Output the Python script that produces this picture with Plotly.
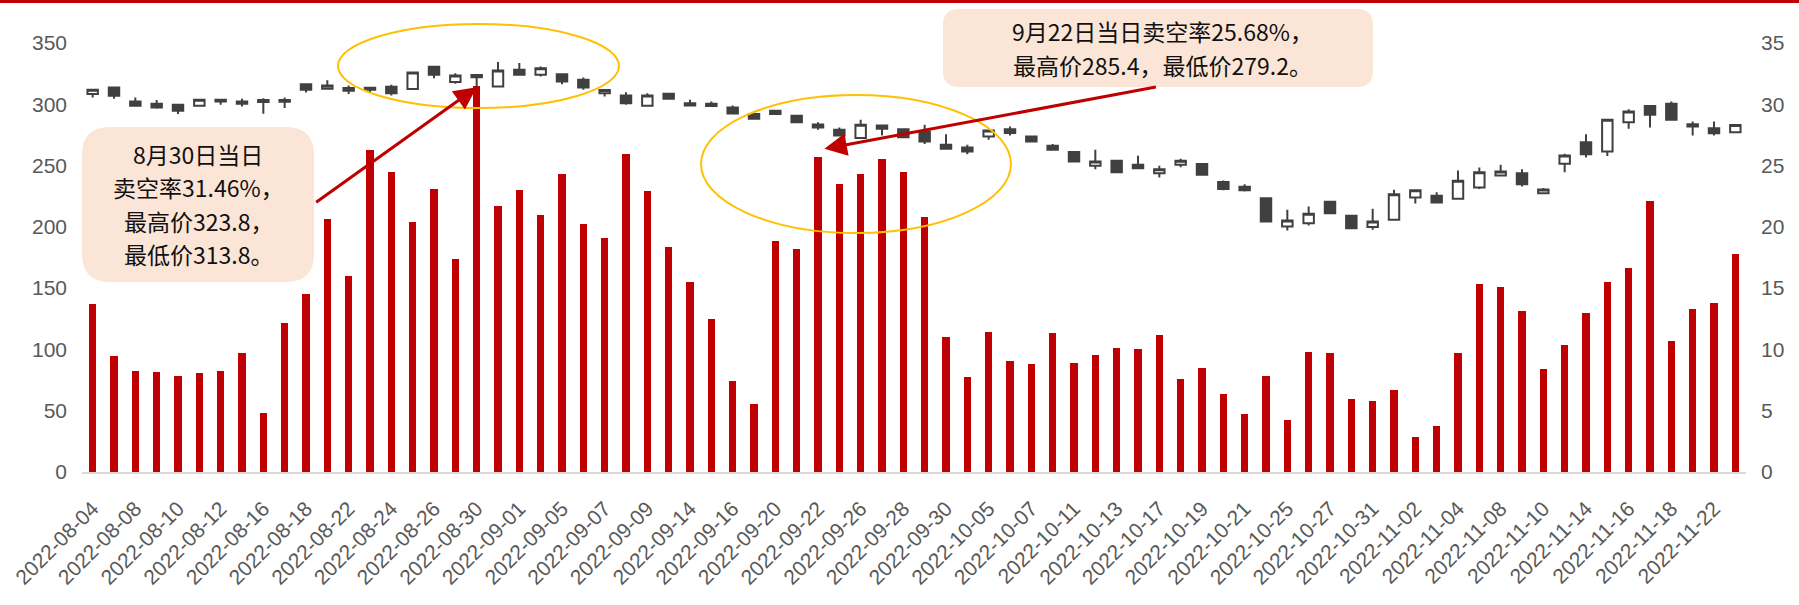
import plotly.graph_objects as go

# Trading days (HK market), one candle and one short-ratio bar per day
dates = [
    "2022-08-04", "2022-08-05", "2022-08-08", "2022-08-09", "2022-08-10", "2022-08-11",
    "2022-08-12", "2022-08-15", "2022-08-16", "2022-08-17", "2022-08-18", "2022-08-19",
    "2022-08-22", "2022-08-23", "2022-08-24", "2022-08-25", "2022-08-26", "2022-08-29",
    "2022-08-30", "2022-08-31", "2022-09-01", "2022-09-02", "2022-09-05", "2022-09-06",
    "2022-09-07", "2022-09-08", "2022-09-09", "2022-09-13", "2022-09-14", "2022-09-15",
    "2022-09-16", "2022-09-19", "2022-09-20", "2022-09-21", "2022-09-22", "2022-09-23",
    "2022-09-26", "2022-09-27", "2022-09-28", "2022-09-29", "2022-09-30", "2022-10-03",
    "2022-10-05", "2022-10-06", "2022-10-07", "2022-10-10", "2022-10-11", "2022-10-12",
    "2022-10-13", "2022-10-14", "2022-10-17", "2022-10-18", "2022-10-19", "2022-10-20",
    "2022-10-21", "2022-10-24", "2022-10-25", "2022-10-26", "2022-10-27", "2022-10-28",
    "2022-10-31", "2022-11-01", "2022-11-02", "2022-11-03", "2022-11-04", "2022-11-07",
    "2022-11-08", "2022-11-09", "2022-11-10", "2022-11-11", "2022-11-14", "2022-11-15",
    "2022-11-16", "2022-11-17", "2022-11-18", "2022-11-21", "2022-11-22", "2022-11-23",
]

open_px = [
    308.3, 313.7, 302.3, 300.4, 299.6, 298.8, 303.7, 302.3, 303.4, 303.4,
    316.4, 312.6, 313.2, 313.5, 314.3, 312.4, 330.6, 318.1, 322.0, 314.5,
    328.1, 324.1, 324.6, 320.0, 309.1, 307.2, 298.8, 308.6, 300.9, 300.4,
    297.4, 292.0, 294.7, 290.6, 283.6, 279.2, 272.4, 282.7, 279.7, 277.8,
    266.9, 264.8, 273.7, 279.7, 273.7, 266.1, 261.0, 249.8, 253.9, 250.6,
    243.8, 250.6, 251.2, 236.5, 232.7, 223.4, 200.3, 203.0, 220.4, 209.0,
    199.8, 205.7, 224.0, 225.3, 222.9, 232.1, 241.9, 243.8, 227.5, 251.4,
    269.1, 261.5, 285.4, 298.7, 300.4, 283.8, 280.5, 277.2,
]
high_px = [
    311.8, 314.0, 305.6, 303.4, 299.9, 304.0, 303.9, 304.5, 305.0, 305.6,
    316.6, 319.7, 315.4, 314.0, 315.9, 326.2, 330.9, 325.4, 323.8, 334.4,
    333.6, 330.9, 324.9, 321.9, 311.8, 309.9, 309.1, 308.8, 303.7, 302.3,
    299.0, 292.2, 295.5, 291.0, 285.4, 281.1, 287.3, 282.9, 279.9, 283.3,
    275.6, 266.9, 278.8, 281.9, 273.9, 267.5, 261.2, 262.9, 254.1, 258.0,
    249.8, 255.5, 251.4, 237.8, 234.8, 224.0, 213.9, 216.6, 220.6, 209.5,
    214.7, 230.2, 230.1, 228.3, 246.0, 248.4, 250.6, 247.1, 231.6, 259.6,
    275.6, 287.5, 296.0, 298.9, 302.3, 286.0, 286.0, 284.0,
]
low_px = [
    305.6, 304.5, 298.2, 296.3, 292.0, 298.5, 299.6, 298.2, 292.2, 296.9,
    309.6, 312.4, 308.3, 309.4, 307.2, 312.2, 321.3, 316.7, 313.8, 314.3,
    323.8, 322.7, 316.4, 311.8, 306.4, 299.6, 298.6, 304.3, 298.8, 298.3,
    292.2, 288.0, 291.5, 285.0, 279.2, 274.4, 272.2, 274.6, 273.0, 267.5,
    263.5, 259.3, 271.0, 274.6, 269.5, 262.7, 253.1, 247.1, 244.4, 247.7,
    240.3, 248.7, 242.3, 229.9, 228.9, 204.2, 197.0, 201.1, 210.5, 198.7,
    197.6, 205.5, 219.1, 219.3, 222.7, 230.8, 241.7, 232.9, 227.3, 244.6,
    256.6, 257.9, 280.0, 281.0, 286.5, 274.5, 274.5, 277.0,
]
close_px = [
    311.8, 306.9, 298.8, 297.4, 294.7, 303.7, 302.3, 300.4, 301.8, 302.0,
    311.8, 315.4, 311.0, 311.8, 309.1, 326.0, 324.1, 323.5, 323.8, 327.6,
    324.1, 329.5, 318.6, 313.7, 311.6, 300.9, 307.2, 304.5, 299.0, 298.5,
    292.5, 288.2, 292.0, 285.4, 281.1, 274.6, 283.3, 280.0, 273.2, 269.6,
    263.7, 261.5, 278.6, 276.5, 269.7, 262.9, 253.3, 253.3, 244.6, 247.9,
    247.1, 253.9, 242.5, 230.8, 229.9, 204.4, 205.2, 210.6, 211.2, 198.9,
    204.4, 226.7, 229.9, 219.9, 237.6, 244.6, 245.2, 234.8, 230.5, 258.2,
    259.3, 287.3, 294.1, 291.4, 287.3, 281.9, 276.4, 283.2,
]

# Daily short-selling ratio, %
short_ratio = [
    13.74, 9.47, 8.25, 8.17, 7.84, 8.09, 8.25, 9.72, 4.82, 12.17,
    14.56, 20.63, 16.00, 26.31, 24.48, 20.41, 23.10, 17.39, 31.46, 21.71,
    23.02, 21.00, 24.32, 20.24, 19.10, 25.95, 22.93, 18.37, 15.51, 12.49,
    7.43, 5.55, 18.84, 18.19, 25.68, 23.51, 24.32, 25.55, 24.48, 20.81,
    11.02, 7.76, 11.43, 9.07, 8.82, 11.35, 8.90, 9.55, 10.13, 10.04,
    11.19, 7.60, 8.49, 6.37, 4.74, 7.84, 4.25, 9.80, 9.72, 5.97,
    5.80, 6.70, 2.87, 3.76, 9.72, 15.35, 15.10, 13.14, 8.41, 10.37,
    12.98, 15.51, 16.65, 22.12, 10.70, 13.31, 13.80, 17.79,
]

price_ticks = [0, 50, 100, 150, 200, 250, 300, 350]
ratio_ticks = [0, 5, 10, 15, 20, 25, 30, 35]
date_ticks = dates[::2]

note_aug30 = ["8月30日当日", "卖空率31.46%，", "最高价323.8，", "最低价313.8。"]
note_sep22 = ["9月22日当日卖空率25.68%，", "最高价285.4，最低价279.2。"]

# ---- canvas geometry (pixels) ----
FIG_W, FIG_H = 1799, 605
M_L, M_R, M_T, M_B = 82, 53, 43, 133
PW = FIG_W - M_L - M_R
PH = FIG_H - M_T - M_B

RED = "#C00000"
GOLD = "#FFC000"
CANDLE = "#404040"
TICK = "#595959"
NOTE_BG = "#FBE5D6"
NOTE_FONT = dict(family="Noto Sans CJK SC", size=23, color="#111111")
LINE_STEP = 33.5


def fx(px):
    return (px - M_L) / PW


def fy(py):
    return (FIG_H - M_B - py) / PH


def rounded_box(x0, y0, x1, y1, r):
    """Rounded rectangle (pixel corners) as a paper-referenced SVG path."""
    rx, ry = r / PW, r / PH
    X0, X1, YT, YB = fx(x0), fx(x1), fy(y0), fy(y1)
    return (
        f"M {X0 + rx},{YT} L {X1 - rx},{YT} Q {X1},{YT} {X1},{YT - ry} "
        f"L {X1},{YB + ry} Q {X1},{YB} {X1 - rx},{YB} "
        f"L {X0 + rx},{YB} Q {X0},{YB} {X0},{YB + ry} "
        f"L {X0},{YT - ry} Q {X0},{YT} {X0 + rx},{YT} Z"
    )


def note_lines(lines, cx, cy):
    """One annotation per line, stacked around a pixel centre."""
    first = cy - LINE_STEP * (len(lines) - 1) / 2
    return [
        dict(text=t, xref="paper", yref="paper", x=fx(cx), y=fy(first + k * LINE_STEP),
             xanchor="center", yanchor="middle", showarrow=False, font=NOTE_FONT)
        for k, t in enumerate(lines)
    ]


fig = go.Figure()

fig.add_trace(go.Bar(
    x=dates, y=short_ratio, yaxis="y",
    marker=dict(color=RED, line=dict(width=0)),
    width=0.33, name="卖空率",
))

fig.add_trace(go.Candlestick(
    x=dates, open=open_px, high=high_px, low=low_px, close=close_px,
    yaxis="y2", whiskerwidth=0, name="股价",
    increasing=dict(line=dict(color=CANDLE, width=2), fillcolor="#FFFFFF"),
    decreasing=dict(line=dict(color=CANDLE, width=2), fillcolor=CANDLE),
))

shapes = [
    # red rule across the top edge
    dict(type="rect", xref="paper", yref="paper",
         x0=fx(0), x1=fx(FIG_W), y0=fy(3), y1=fy(-1),
         line=dict(width=0), fillcolor=RED, layer="above"),
    # callout boxes
    dict(type="path", xref="paper", yref="paper",
         path=rounded_box(82, 127, 314, 282, 28),
         fillcolor=NOTE_BG, line=dict(width=0), layer="below"),
    dict(type="path", xref="paper", yref="paper",
         path=rounded_box(943, 9, 1373, 87, 16),
         fillcolor=NOTE_BG, line=dict(width=0), layer="below"),
    # highlight ellipses
    dict(type="circle", xref="paper", yref="paper",
         x0=fx(338), x1=fx(619), y0=fy(108), y1=fy(24),
         line=dict(color=GOLD, width=2), layer="above"),
    dict(type="circle", xref="paper", yref="paper",
         x0=fx(701), x1=fx(1011), y0=fy(233), y1=fy(95),
         line=dict(color=GOLD, width=2), layer="above"),
]

annotations = note_lines(note_aug30, 198, 204) + note_lines(note_sep22, 1162, 48) + [
    # arrow to the 8/30 candle low
    dict(text="", xref="x", yref="y2", x=18, y=low_px[18],
         showarrow=True, arrowhead=2, arrowsize=1.5, arrowwidth=3,
         arrowcolor=RED, ax=-162, ay=116, standoff=0),
    # arrow to the 9/22 bar
    dict(text="", xref="x", yref="y2", x=34.3, y=263.7,
         showarrow=True, arrowhead=2, arrowsize=1.5, arrowwidth=3,
         arrowcolor=RED, ax=333, ay=-62, standoff=0),
]

tick_font = dict(family="Liberation Sans, Arial", size=21, color=TICK)

fig.update_layout(
    width=FIG_W, height=FIG_H,
    margin=dict(l=M_L, r=M_R, t=M_T, b=M_B, pad=0),
    paper_bgcolor="#FFFFFF", plot_bgcolor="#FFFFFF",
    showlegend=False,
    bargap=0.0,
    shapes=shapes,
    annotations=annotations,
    xaxis=dict(
        type="category", range=[-0.5, len(dates) - 0.5],
        tickmode="array", tickvals=date_ticks, ticktext=date_ticks,
        tickangle=-45, tickfont=dict(family="Liberation Sans, Arial", size=21, color=TICK),
        showline=True, linecolor="#D9D9D9", linewidth=2,
        showgrid=False, zeroline=False, ticks="",
        ticklabelstandoff=14,
        rangeslider=dict(visible=False), automargin=False, fixedrange=True,
    ),
    yaxis=dict(
        side="right", range=[0, 35], tickmode="array", tickvals=ratio_ticks,
        tickfont=tick_font, showgrid=False, zeroline=False, showline=False,
        ticks="", ticklabelstandoff=14, automargin=False,
    ),
    yaxis2=dict(
        overlaying="y", side="left", range=[0, 350], tickmode="array",
        tickvals=price_ticks, tickfont=tick_font, showgrid=False,
        zeroline=False, showline=False, ticks="", ticklabelstandoff=14,
        automargin=False,
    ),
)

fig.write_html("out.html")
